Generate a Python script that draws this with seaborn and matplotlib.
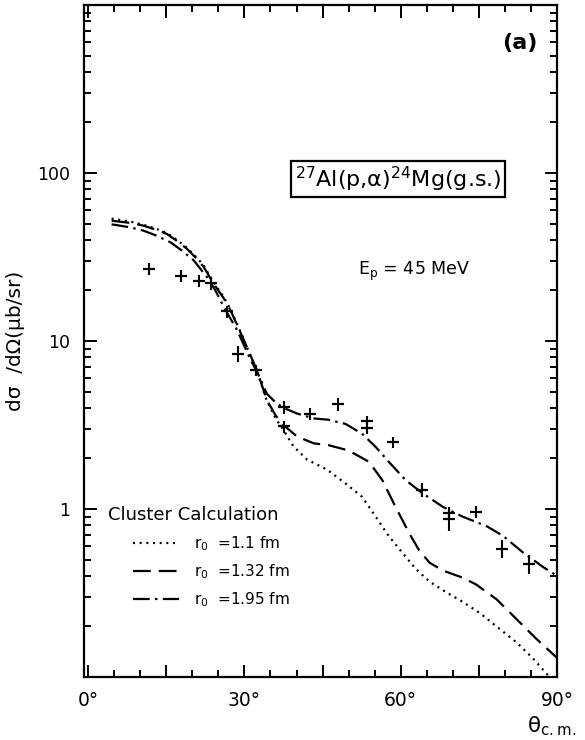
import numpy as np
import pandas as pd
import matplotlib
matplotlib.use("Agg")
import matplotlib.pyplot as plt
from matplotlib.ticker import FixedLocator, LogLocator, NullFormatter, FixedFormatter
import seaborn as sns

# Cluster-model curves for three radius parameters
angle_r110 = [4.5, 8, 10.6, 13, 15.1, 17, 19, 21, 22.2, 24.1, 26, 27.3, 29.6, 32.4, 34.3, 36,
              37.5, 39.4, 42, 45.8, 49.4, 52.6, 55.2, 57.7, 60.3, 62.9, 65.5, 68.7, 71.9, 75.2,
              78.4, 82.3, 85.5, 87.7, 88.6]
xsec_r110 = [53.5, 51.5, 49.2, 46.6, 44.0, 40.0, 35.8, 31.0, 28.0, 22.3, 18.3, 15.5, 10.7, 6.6, 4.4, 3.45,
             2.95, 2.36, 1.97, 1.72, 1.42, 1.18, 0.90, 0.69, 0.55, 0.44, 0.37, 0.32, 0.28, 0.24,
             0.20, 0.16, 0.128, 0.107, 0.10]

angle_r132 = [4.5, 8, 10.6, 13, 15.1, 17, 19, 21, 22.2, 24.1, 26, 27.3, 29.6, 32.4, 34.3, 36,
              37.5, 40.1, 43.3, 46.1, 50, 53.9, 56.5, 59, 61.6, 63.5, 65.5, 68.1, 71.9, 74.5,
              78.4, 82.3, 86.1, 90]
xsec_r132 = [52.0, 50.5, 48.6, 46.0, 43.4, 39.5, 35.3, 30.5, 27.5, 21.9, 18.0, 15.3, 10.6, 6.7, 4.45, 3.6,
             3.16, 2.7, 2.46, 2.4, 2.23, 1.91, 1.48, 1.03, 0.72, 0.57, 0.48, 0.43, 0.39, 0.355,
             0.29, 0.22, 0.168, 0.13]

angle_r195 = [4.5, 8, 10.6, 13, 15.8, 18, 20.3, 22.8, 24.5, 26, 28.6, 31.2, 32.5, 34.3, 36, 37.5,
              40.1, 43.3, 46.1, 49.4, 52.6, 55.2, 57.7, 61, 64.2, 68.1, 71.9, 76.5, 79.7, 83.5,
              87.4, 90]
xsec_r195 = [49.5, 47.5, 45.4, 42.5, 38.7, 34.5, 30.1, 24.0, 19.8, 16.0, 11.6, 7.7, 6.5, 4.85, 4.3, 4.0,
             3.7, 3.46, 3.4, 3.21, 2.8, 2.34, 1.91, 1.48, 1.24, 1.03, 0.90, 0.79, 0.69, 0.55,
             0.45, 0.40]

curve_labels = ["r$_0$  =1.1 fm", "r$_0$  =1.32 fm", "r$_0$  =1.95 fm"]

# Measured cross sections (mu b/sr) with vertical error bars
exp_angle = [11.7, 17.9, 21.3, 23.6, 26.6, 28.8, 32.2, 37.5, 37.5, 42.6, 47.9, 53.5, 53.5, 58.6,
             64.1, 69.2, 69.2, 74.4, 79.5, 84.7]
exp_xsec = [27.0, 24.4, 22.8, 22.0, 15.0, 8.4, 6.7, 4.05, 3.1, 3.7, 4.2, 3.35, 3.05, 2.5,
            1.3, 0.95, 0.87, 0.96, 0.58, 0.47]
exp_err = [2.2, 2.0, 1.8, 1.8, 1.2, 0.9, 0.5, 0.35, 0.25, 0.3, 0.35, 0.25, 0.25, 0.2,
           0.12, 0.08, 0.13, 0.08, 0.07, 0.06]

x_tick_values = [0, 15, 30, 45, 60, 75, 90]
x_tick_labels = ["0°", "", "30°", "", "60°", "", "90°"]
y_tick_values = [1, 10, 100]
y_tick_labels = ["1", "10", "100"]

curves = pd.concat([
    pd.DataFrame({"angle": angle_r110, "xsec": xsec_r110, "model": curve_labels[0]}),
    pd.DataFrame({"angle": angle_r132, "xsec": xsec_r132, "model": curve_labels[1]}),
    pd.DataFrame({"angle": angle_r195, "xsec": xsec_r195, "model": curve_labels[2]}),
], ignore_index=True)
points = pd.DataFrame({"angle": exp_angle, "xsec": exp_xsec, "err": exp_err})

sns.set_style("ticks")
plt.rcParams["font.family"] = ["DejaVu Sans"]
plt.rcParams["mathtext.fontset"] = "dejavusans"
plt.rcParams["mathtext.default"] = "regular"
for key in ("text.color", "axes.labelcolor", "xtick.color", "ytick.color", "axes.edgecolor"):
    plt.rcParams[key] = "black"

fig = plt.figure(figsize=(5.85, 7.4), dpi=100)
ax = fig.add_axes([84 / 585, 1 - 677 / 740, 473 / 585, 672 / 740])

dash_styles = {
    curve_labels[0]: (0.9, 2.1),
    curve_labels[1]: (8.0, 3.6),
    curve_labels[2]: (7.5, 2.4, 1.1, 2.4),
}
sns.lineplot(data=curves, x="angle", y="xsec", hue="model", style="model",
             palette={k: "black" for k in curve_labels}, dashes=dash_styles,
             sort=False, estimator=None, linewidth=1.6, ax=ax, legend=True)

ax.errorbar(points["angle"], points["xsec"], yerr=points["err"], fmt="none",
            ecolor="black", elinewidth=1.5, capsize=0, zorder=4)
sns.scatterplot(data=points, x="angle", y="xsec", marker="_", s=64, color="black",
                linewidth=1.6, ax=ax, zorder=5, legend=False)

ax.set_yscale("log")
ax.set_xlim(-0.8, 90)
ax.set_ylim(0.1, 1000)

ax.xaxis.set_major_locator(FixedLocator(x_tick_values))
ax.xaxis.set_major_formatter(FixedFormatter(x_tick_labels))
ax.xaxis.set_minor_locator(FixedLocator(np.arange(5, 90, 5)))
ax.yaxis.set_major_locator(FixedLocator(y_tick_values))
ax.yaxis.set_major_formatter(FixedFormatter(y_tick_labels))
ax.yaxis.set_minor_locator(LogLocator(base=10, subs=np.arange(2, 10)))
ax.yaxis.set_minor_formatter(NullFormatter())

ax.tick_params(which="both", direction="in", top=True, right=True, colors="black",
               width=1.4)
ax.tick_params(which="major", length=9)
ax.tick_params(which="minor", length=5)
ax.tick_params(axis="x", which="major", labelsize=13.5, pad=10)
ax.tick_params(axis="y", which="major", labelsize=12.5, pad=10)
for sp in ax.spines.values():
    sp.set_linewidth(1.6)
    sp.set_color("black")

ax.set_xlabel("")
ax.set_ylabel("dσ  /dΩ(μb/sr)", fontsize=14.5)
ax.yaxis.set_label_coords(-0.125, 0.5)

fig.text(0.985, 0.018, r"$\theta_{\rm c.m.}$", fontsize=15.5, ha="right", va="center")

ax.text(0.922, 0.943, "(a)", transform=ax.transAxes, fontsize=16, fontweight="bold",
        ha="center", va="center")
ax.text(0.664, 0.741, r"$^{27}$Al(p,$\alpha$)$^{24}$Mg(g.s.)", transform=ax.transAxes,
        fontsize=16, ha="center", va="center",
        bbox=dict(boxstyle="square,pad=0.15", fc="white", ec="black", lw=1.6))
ax.text(0.698, 0.603, r"E$_{\rm p}$ = 45 MeV", transform=ax.transAxes,
        fontsize=12.5, ha="center", va="center")

ax.text(0.051, 0.241, "Cluster Calculation", transform=ax.transAxes,
        fontsize=13, ha="left", va="center")
handles, labels = ax.get_legend_handles_labels()
ax.legend(handles, labels, loc="upper left", bbox_to_anchor=(0.103, 0.213),
          frameon=False, fontsize=11, handlelength=3.0, handletextpad=1.0,
          labelspacing=0.62, borderaxespad=0, borderpad=0)

fig.savefig("out.png", dpi=100)
